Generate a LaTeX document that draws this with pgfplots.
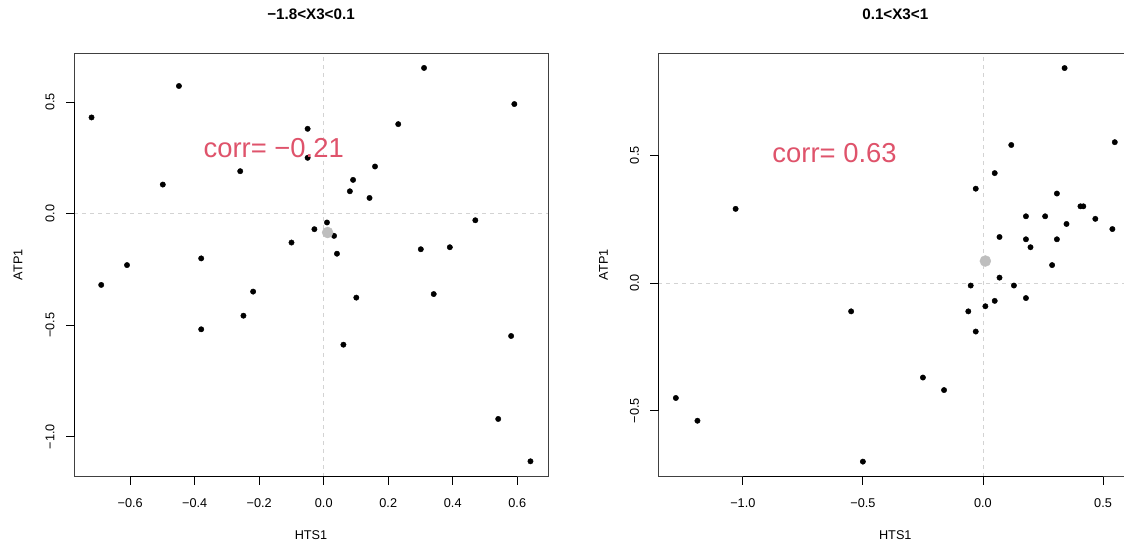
\documentclass[border=0pt]{standalone}
\usepackage{fontspec}
\setmainfont{Liberation Sans}
\usepackage{pgfplots}
\pgfplotsset{compat=1.18}
\usepackage{pgfplotstable}
\definecolor{corrred}{HTML}{DF536B}
\definecolor{ptgray}{HTML}{BEBEBE}
\definecolor{refgray}{HTML}{D3D3D3}

\pgfplotstableread{
x y
-0.720 0.431
-0.449 0.572
0.311 0.653
0.591 0.491
-0.050 0.380
0.231 0.401
-0.050 0.250
-0.259 0.190
-0.499 0.130
0.159 0.211
0.091 0.151
0.081 0.100
0.142 0.070
0.470 -0.030
0.010 -0.040
-0.029 -0.070
0.032 -0.100
-0.100 -0.130
0.391 -0.151
0.301 -0.160
0.041 -0.180
-0.380 -0.201
-0.610 -0.231
-0.690 -0.320
-0.219 -0.350
0.101 -0.377
0.341 -0.361
-0.249 -0.458
-0.380 -0.519
0.061 -0.588
0.581 -0.549
0.541 -0.921
0.641 -1.111
}\leftdata

\pgfplotstableread{
x y
0.340 0.841
0.549 0.551
0.118 0.540
0.049 0.430
-0.030 0.369
-1.030 0.290
0.308 0.350
0.406 0.300
0.418 0.300
0.179 0.261
0.259 0.261
0.468 0.251
0.348 0.231
0.539 0.211
0.069 0.180
0.179 0.171
0.308 0.171
0.198 0.140
0.288 0.070
0.069 0.021
-0.051 -0.010
0.129 -0.010
0.179 -0.059
0.049 -0.070
0.010 -0.091
-0.061 -0.111
-0.549 -0.111
-0.030 -0.190
-0.250 -0.370
-0.162 -0.419
-1.279 -0.450
-1.189 -0.539
-0.500 -0.699
}\rightdata

\pgfplotsset{
  rstyle/.style={
    scale only axis, width=474pt, height=423.7pt, anchor=south west,
    axis line style={black!75, line width=0.8pt},
    tick align=outside, major tick length=8pt,
    every tick/.style={black, line width=0.8pt},
    xtick pos=lower, ytick pos=left,
    tick label style={font=\fontsize{12.7}{15}\selectfont},
    xticklabel style={anchor=base},
    xticklabel shift=22.5pt,
    yticklabel style={rotate=90, anchor=base},
    yticklabel shift=11.5pt,
    label style={font=\fontsize{12.7}{15}\selectfont},
    xlabel style={at={(axis description cs:0.5,-0.1475)}, anchor=base},
    title style={font=\bfseries\fontsize{15.2}{18}\selectfont, at={(axis description cs:0.5,1.0651)}, anchor=base},
    clip mode=individual,
  }
}

\begin{document}
\begin{tikzpicture}[x=1pt,y=1pt]
\useasboundingbox (0,0) rectangle (1124,542);
\clip (0,0) rectangle (1124,542);
\fill[white] (0,0) rectangle (1124,542);

\begin{axis}[rstyle, at={(74pt,65.3pt)},
  xmin=-0.7744, xmax=0.6954, ymin=-1.18, ymax=0.72,
  xtick={-0.6,-0.4,-0.2,0,0.2,0.4,0.6},
  xticklabels={−0.6,−0.4,−0.2,0.0,0.2,0.4,0.6},
  ytick={-1,-0.5,0,0.5},
  yticklabels={−1.0,−0.5,0.0,0.5},
  xlabel={HTS1}, ylabel={ATP1},
  ylabel style={at={(axis description cs:-0.1087,0.5)}, anchor=base},
  title={−1.8<X3<0.1}]
\addplot[refgray, line width=0.8pt, dash pattern=on 4pt off 4pt] coordinates {(0,-1.18) (0,0.72)};
\addplot[refgray, line width=0.8pt, dash pattern=on 4pt off 4pt] coordinates {(-0.7744,0) (0.6954,0)};
\addplot[only marks, mark=*, mark size=2.7pt, black] table {\leftdata};
\addplot[only marks, mark=*, mark size=5.5pt, ptgray, draw=ptgray] coordinates {(0.012,-0.085)};
\draw[black, line width=0.8pt] (axis cs:-0.6,-1.18) -- (axis cs:0.6,-1.18);
\draw[black, line width=0.8pt] (axis cs:-0.7744,-1) -- (axis cs:-0.7744,0.5);
\node[text=corrred, font=\fontsize{27.4}{32}\selectfont] at (axis cs:-0.155,0.293) {corr= −0.21};
\end{axis}

\begin{axis}[rstyle, at={(658.3pt,65.3pt)},
  xmin=-1.352, xmax=0.622, ymin=-0.758, ymax=0.900,
  xtick={-1,-0.5,0,0.5},
  xticklabels={−1.0,−0.5,0.0,0.5},
  ytick={-0.5,0,0.5},
  yticklabels={−0.5,0.0,0.5},
  xlabel={HTS1}, ylabel={ATP1},
  ylabel style={at={(axis description cs:-0.1064,0.5)}, anchor=base},
  title={0.1<X3<1}]
\addplot[refgray, line width=0.8pt, dash pattern=on 4pt off 4pt] coordinates {(0,-0.758) (0,0.900)};
\addplot[refgray, line width=0.8pt, dash pattern=on 4pt off 4pt] coordinates {(-1.352,0) (0.622,0)};
\addplot[only marks, mark=*, mark size=2.7pt, black] table {\rightdata};
\addplot[only marks, mark=*, mark size=5.5pt, ptgray, draw=ptgray] coordinates {(0.010,0.086)};
\draw[black, line width=0.8pt] (axis cs:-1,-0.758) -- (axis cs:0.5,-0.758);
\draw[black, line width=0.8pt] (axis cs:-1.352,-0.5) -- (axis cs:-1.352,0.5);
\node[text=corrred, font=\fontsize{27.4}{32}\selectfont] at (axis cs:-0.618,0.508) {corr= 0.63};
\end{axis}
\end{tikzpicture}
\end{document}
